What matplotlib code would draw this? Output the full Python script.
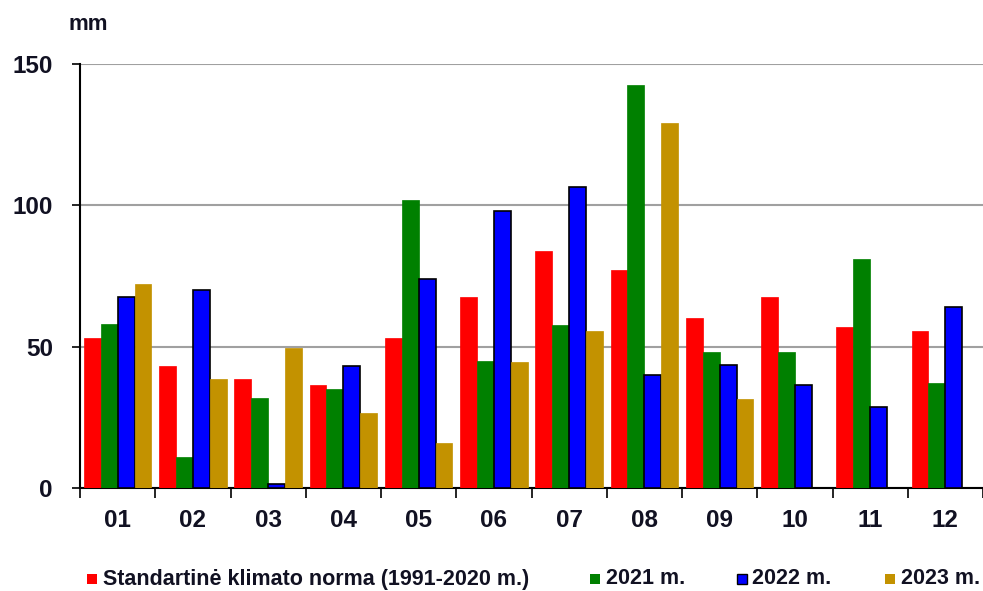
import matplotlib
matplotlib.use("Agg")
import matplotlib.pyplot as plt
import numpy as np
from matplotlib.patches import Rectangle

months = ["01", "02", "03", "04", "05", "06", "07", "08", "09", "10", "11", "12"]
norma = [53, 43, 38.5, 36.5, 53, 67.5, 84, 77, 60, 67.5, 57, 55.5]
y2021 = [58, 11, 32, 35, 102, 45, 57.5, 142.5, 48, 48, 81, 37]
y2022 = [67.5, 70, 1.5, 43, 74, 98, 106.5, 40, 43.5, 36.5, 28.5, 64]
y2023 = [72, 38.5, 49.5, 26.5, 16, 44.5, 55.5, 129, 31.5, np.nan, np.nan, np.nan]
labels = ["Standartinė klimato norma (1991-2020 m.)", "2021 m.", "2022 m.", "2023 m."]
colors = ["#FF0000", "#008000", "#0000FF", "#C39200"]

plt.rcParams['font.family'] = ['Liberation Sans', 'DejaVu Sans']

W, H = 983, 591
fig = plt.figure(figsize=(W/100, H/100), dpi=100)
ax = fig.add_axes([80/W, 1-488/H, 1-80/W, (488-64)/H])

x = np.arange(len(months))
w = 0.225
series = [norma, y2021, y2022, y2023]
for i, (s, c) in enumerate(zip(series, colors)):
    ec = 'black' if i == 2 else c
    lw = 1.2 if i == 2 else 0.5
    ax.bar(x - 1.5*w + i*w, s, width=w, color=c, edgecolor=ec, linewidth=lw, zorder=3)

ax.set_xlim(-0.5, len(months) - 0.5)
ax.set_ylim(0, 150)
ax.set_yticks([0, 50, 100, 150])
ax.set_yticklabels(["0", "50", "100", "150"], fontsize=17.5, fontweight='bold', color='#111122')
ax.set_xticks(x)
ax.set_xticklabels(months, fontsize=17.5, fontweight='bold', color='#111122')
ax.tick_params(axis='x', length=0, pad=15)
ax.set_xticks(np.arange(-0.5, len(months), 1), minor=True)
ax.tick_params(axis='x', which='minor', length=7, width=1.2, direction='out')
ax.tick_params(axis='y', length=6, width=1.2, direction='out', pad=13.5)
ax.grid(axis='y', color='#A0A0A0', linewidth=1.5, zorder=0)
for sp in ['top', 'right']:
    ax.spines[sp].set_visible(False)
ax.spines['left'].set_linewidth(1.5)
ax.spines['bottom'].set_linewidth(1.5)

fig.text(68/W, 1-25/H, "mm", fontsize=16, fontweight='bold', va='center', ha='left', color='#111122')

# legend, laid out by hand along the bottom
leg_sq_x = [87, 590, 737, 885]
leg_txt_x = [103, 606, 752, 901]
leg_y = 579
for i, c in enumerate(colors):
    ec = 'black' if i == 2 else c
    fig.patches.append(Rectangle((leg_sq_x[i]/W, (H-leg_y-5)/H), 10/W, 10/H, transform=fig.transFigure,
                                 facecolor=c, edgecolor=ec, linewidth=1 if i == 2 else 0))
    fig.text(leg_txt_x[i]/W, 1-leg_y/H, labels[i], fontsize=15.5, fontweight='bold', va='center', ha='left',
             color='#111122')

fig.savefig("out.png", dpi=100)
